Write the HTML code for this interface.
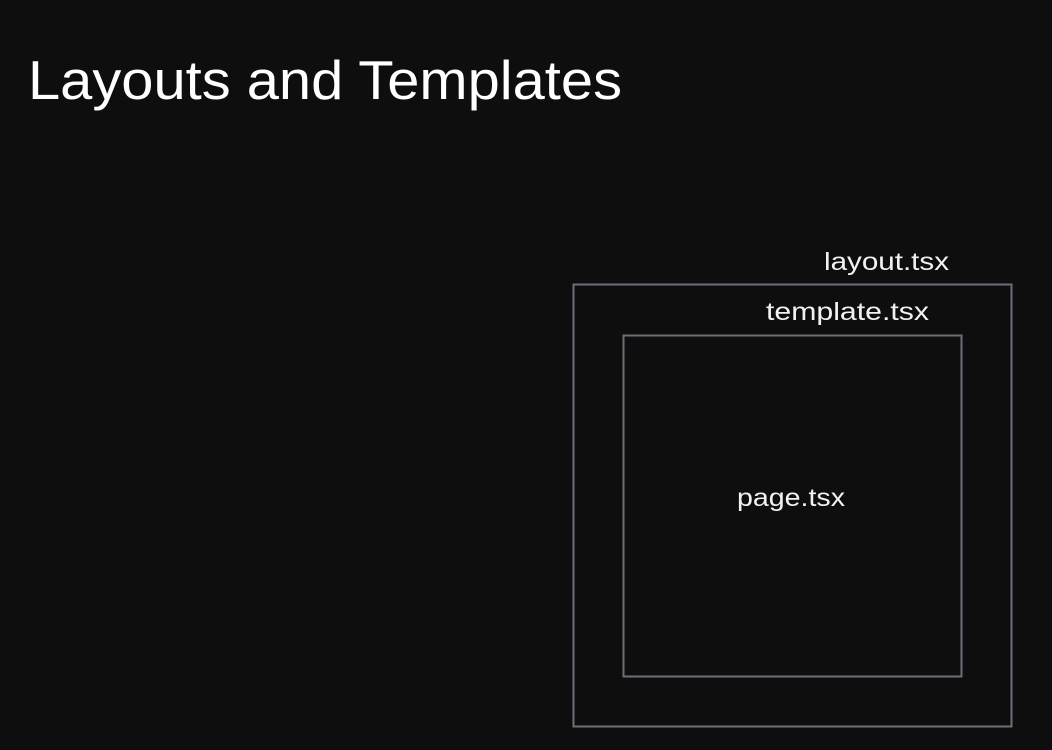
<!DOCTYPE html>
<html><head><meta charset="utf-8"><style>
html,body{margin:0;padding:0;background:#0e0e0e;}
svg{display:block;}
</style></head><body>
<svg width="1052" height="750" xmlns="http://www.w3.org/2000/svg">
<rect width="1052" height="750" fill="#0e0e0e"/>
<text x="28" y="99" font-family="Liberation Sans, sans-serif" font-size="55" fill="#ffffff" textLength="594" lengthAdjust="spacingAndGlyphs">Layouts and Templates</text>
<rect x="573.5" y="284.5" width="438" height="442" fill="none" stroke="#6a7079" stroke-width="2"/>
<rect x="623.5" y="335.5" width="338" height="341" fill="none" stroke="#6a7079" stroke-width="2"/>
<text x="824" y="270" font-family="Liberation Sans, sans-serif" font-size="25" fill="#f2f2f2" textLength="125" lengthAdjust="spacingAndGlyphs">layout.tsx</text>
<text x="766" y="320" font-family="Liberation Sans, sans-serif" font-size="25" fill="#f2f2f2" textLength="163" lengthAdjust="spacingAndGlyphs">template.tsx</text>
<text x="737" y="506" font-family="Liberation Sans, sans-serif" font-size="25" fill="#f2f2f2" textLength="108" lengthAdjust="spacingAndGlyphs">page.tsx</text>
</svg>
</body></html>
